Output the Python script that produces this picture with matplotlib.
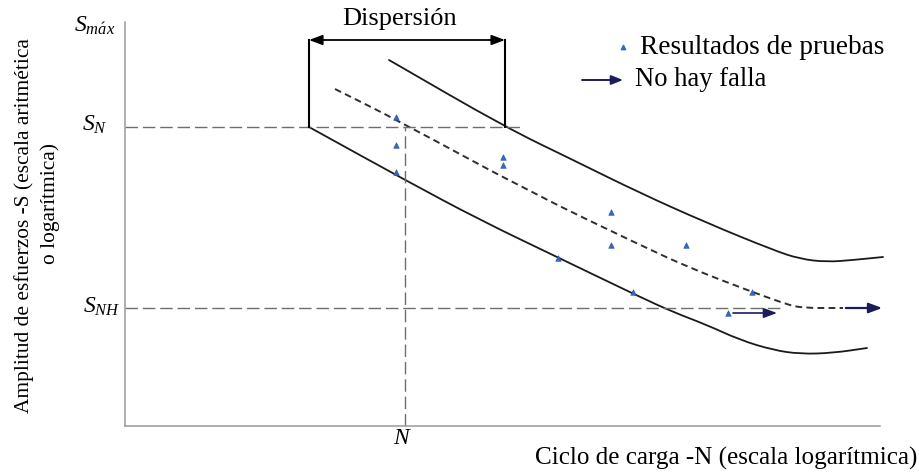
import matplotlib
matplotlib.use("Agg")
import matplotlib.pyplot as plt
from matplotlib.path import Path
from matplotlib.patches import PathPatch
import numpy as np

plt.rcParams['font.family'] = ['Liberation Serif', 'DejaVu Serif']
plt.rcParams['mathtext.fontset'] = 'custom'
plt.rcParams['mathtext.rm'] = 'Liberation Serif'
plt.rcParams['mathtext.it'] = 'Liberation Serif:italic'

# ---- data (schematic units: x = log cycles, y = stress amplitude) ----
upper_x = [264, 380, 448, 515, 582, 648, 675, 702, 728, 758]
upper_y = [366, 299, 266, 233, 203, 176, 167, 164, 166, 169]

lower_x = [184, 280, 355, 432, 515, 548, 582, 615, 648, 675, 708, 742]
lower_y = [299, 246, 206, 169, 129, 114, 101, 86, 76, 72, 73, 78]

median_x = [210, 272, 405, 515, 565, 622, 658, 675, 718]
median_y = [337, 306, 234, 181, 158, 136, 123, 118, 118]
median_arrow_x = [718, 760]
median_arrow_y = [118, 118]

test_x = [271, 271, 271, 378, 378, 486, 486, 561, 433, 508, 627, 603]
test_y = [309, 281, 254, 269, 261, 214, 181, 181, 168, 134, 134, 113]

runout_x = [608, 652]
runout_y = [113, 113]

S_N = 299
S_NH = 118
N_val = 280
disp_left, disp_right = 184, 380
disp_y = 386
S_N_line_end = 395
S_NH_line_end = 658

legend_tri = (498, 379)
legend_arrow_x = [457, 498]
legend_arrow_y = 346

# ---- figure ----
W, H = 920, 473
fig = plt.figure(figsize=(W / 100, H / 100), dpi=100)
ax = fig.add_axes([125 / W, 47 / H, 760 / W, 404 / H])
ax.set_xlim(0, 760)
ax.set_ylim(0, 404)
ax.set_xticks([])
ax.set_yticks([])
for s in ['top', 'right']:
    ax.spines[s].set_visible(False)
for s in ['left', 'bottom']:
    ax.spines[s].set_color('#9a9a9a')
    ax.spines[s].set_linewidth(1.1)
ax.spines['bottom'].set_bounds(0, 755)


def smooth_path(xs, ys):
    pts = list(zip(xs, ys))
    verts = [pts[0]]
    codes = [Path.MOVETO]
    mid = lambda a, b: ((a[0] + b[0]) / 2, (a[1] + b[1]) / 2)
    verts.append(mid(pts[0], pts[1]))
    codes.append(Path.LINETO)
    for i in range(1, len(pts) - 1):
        verts += [pts[i], mid(pts[i], pts[i + 1])]
        codes += [Path.CURVE3, Path.CURVE3]
    verts.append(pts[-1])
    codes.append(Path.LINETO)
    return Path(verts, codes)


ref_style = dict(color='#6e6e6e', lw=1.0, linestyle=(0, (9, 3.5)))
ax.plot([0, S_N_line_end], [S_N, S_N], **ref_style)
ax.plot([0, S_NH_line_end], [S_NH, S_NH], **ref_style)
ax.plot([N_val, N_val], [0, S_N], **ref_style)

for xs, ys in [(upper_x, upper_y), (lower_x, lower_y)]:
    ax.add_patch(PathPatch(smooth_path(xs, ys), fill=False, edgecolor='#1a1a1a', lw=1.3,
                           clip_on=False, capstyle='round'))
ax.add_patch(PathPatch(smooth_path(median_x, median_y), fill=False, edgecolor='#2e2e2e', lw=1.4,
                       linestyle=(0, (3.5, 2.2)), clip_on=False))
ax.annotate('', xy=(median_arrow_x[1], median_arrow_y[1]), xytext=(median_arrow_x[0], median_arrow_y[0]),
            arrowprops=dict(arrowstyle='-|>,head_length=0.8,head_width=0.3', color='#1c1c5c', lw=1.6),
            annotation_clip=False)

# dispersion bracket
ax.plot([disp_left, disp_left], [S_N, disp_y], color='black', lw=1.5)
ax.plot([disp_right, disp_right], [S_N, disp_y], color='black', lw=1.5)
ax.annotate('', xy=(disp_left, disp_y), xytext=(disp_right, disp_y),
            arrowprops=dict(arrowstyle='<|-|>,head_length=0.8,head_width=0.3', color='black', lw=1.3,
                            shrinkA=0, shrinkB=0))

# test results
ax.scatter(test_x, test_y, marker='^', s=16, color='#3566c8', edgecolors='#2a4fa0', linewidths=0.4, zorder=5)
ax.annotate('', xy=(runout_x[1], runout_y[1]), xytext=(runout_x[0], runout_y[0]),
            arrowprops=dict(arrowstyle='-|>,head_length=0.8,head_width=0.3', color='#1c1c5c', lw=1.2,
                            shrinkA=0, shrinkB=0))

# legend
ax.scatter([legend_tri[0]], [legend_tri[1]], marker='^', s=10, color='#3566c8', zorder=5)
ax.annotate('', xy=(legend_arrow_x[1], legend_arrow_y), xytext=(legend_arrow_x[0], legend_arrow_y),
            arrowprops=dict(arrowstyle='-|>,head_length=0.7,head_width=0.28', color='#1c1c5c', lw=1.4,
                            shrinkA=0, shrinkB=0), annotation_clip=False)

renderer = fig.canvas.get_renderer()


def fit(t, target, axis='w'):
    fs = t.get_fontsize()
    bb = t.get_window_extent(renderer)
    cur = bb.width if axis == 'w' else bb.height
    t.set_fontsize(fs * target / cur)


def ftext(px, py, s, **kw):
    return fig.text(px / W, 1 - py / H, s, **kw)


t = ftext(400, 19, 'Dispersión', ha='center', va='center', fontsize=14)
fit(t, 115)
t = ftext(640, 47, 'Resultados de pruebas', ha='left', va='center', fontsize=14)
fit(t, 245)
t = ftext(635, 80, 'No hay falla', ha='left', va='center', fontsize=14)
fit(t, 132)
t = ftext(917, 458, 'Ciclo de carga -N (escala logarítmica)', ha='right', va='center', fontsize=14)
fit(t, 385)
t1 = ftext(24, 226, 'Amplitud de esfuerzos -S (escala aritmética', ha='center', va='center',
           rotation=90, fontsize=13)
fit(t1, 373, 'h')
ftext(50, 203, 'o logarítmica)', ha='center', va='center', rotation=90, fontsize=t1.get_fontsize())

ftext(115, 26, r'$S_{m\acute{a}x}$', ha='right', va='center', fontsize=17)
ftext(108, 125, r'$S_{N}$', ha='right', va='center', fontsize=17)
ftext(120, 307, r'$S_{NH}$', ha='right', va='center', fontsize=17)
ftext(403, 438, r'$N$', ha='center', va='center', fontsize=17)

fig.savefig('out.png', dpi=100, facecolor='white')
